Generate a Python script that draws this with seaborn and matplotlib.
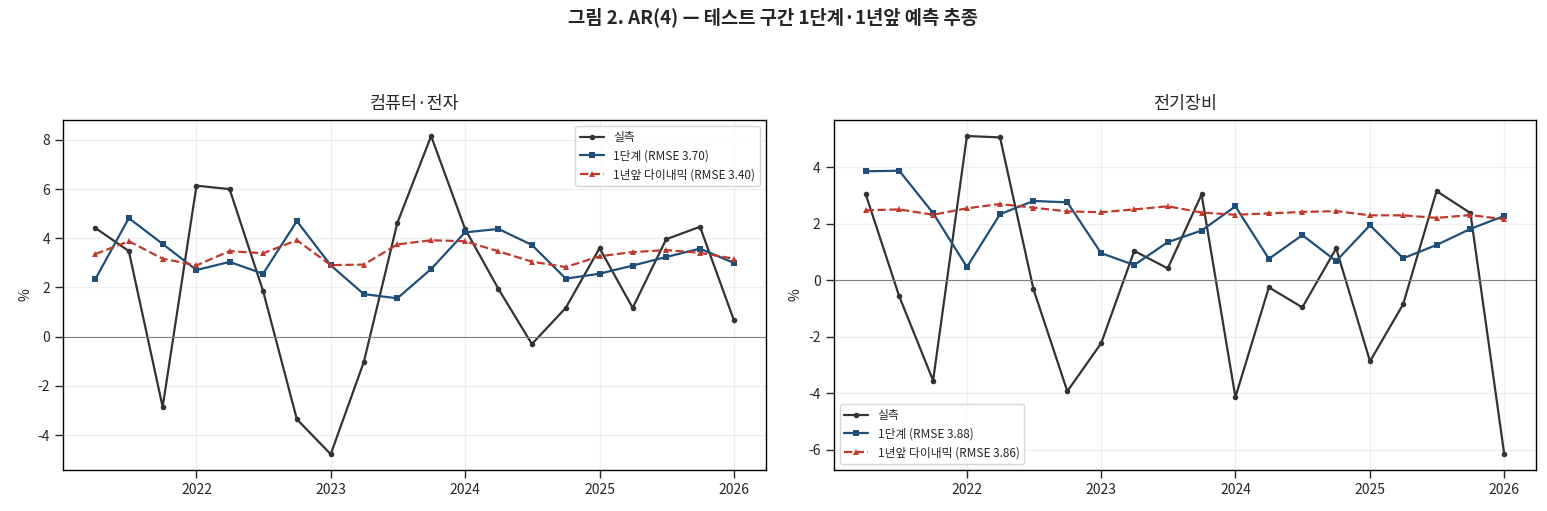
import numpy as np
import pandas as pd
import matplotlib
matplotlib.use("Agg")
import matplotlib.pyplot as plt
import matplotlib.dates as mdates
import seaborn as sns

# quarterly test period, 2021Q2 .. 2026Q1
dates = pd.date_range("2021-04-01", "2026-01-01", freq="QS")

# 컴퓨터·전자
comp_actual = [4.42, 3.48, -2.86, 6.14, 6.00, 1.86, -3.36, -4.78, -1.03, 4.62,
               8.16, 4.39, 1.94, -0.30, 1.17, 3.60, 1.17, 3.96, 4.47, 0.68]
comp_step1 = [2.34, 4.82, 3.77, 2.71, 3.04, 2.56, 4.70, 2.90, 1.73, 1.56,
              2.75, 4.24, 4.38, 3.73, 2.36, 2.56, 2.89, 3.24, 3.58, 3.00]
comp_dyn = [3.36, 3.88, 3.17, 2.90, 3.48, 3.39, 3.92, 2.91, 2.93, 3.75,
            3.92, 3.88, 3.47, 3.05, 2.83, 3.27, 3.44, 3.52, 3.41, 3.17]

# 전기장비
elec_actual = [3.04, -0.57, -3.55, 5.11, 5.06, -0.32, -3.93, -2.23, 1.04, 0.42,
               3.04, -4.14, -0.25, -0.96, 1.13, -2.87, -0.85, 3.16, 2.38, -6.16]
elec_step1 = [3.86, 3.88, 2.38, 0.47, 2.34, 2.81, 2.76, 0.96, 0.54, 1.35,
              1.76, 2.62, 0.76, 1.60, 0.68, 1.95, 0.78, 1.25, 1.82, 2.28]
elec_dyn = [2.48, 2.51, 2.32, 2.55, 2.70, 2.57, 2.44, 2.41, 2.51, 2.62,
            2.40, 2.32, 2.37, 2.42, 2.45, 2.30, 2.30, 2.21, 2.31, 2.16]

panels = [
    ("컴퓨터·전자", comp_actual, comp_step1, comp_dyn, 3.70, 3.40, "upper right"),
    ("전기장비", elec_actual, elec_step1, elec_dyn, 3.88, 3.86, "lower left"),
]

sns.set_theme(style="ticks")
plt.rcParams['font.family'] = ['Noto Sans CJK KR', 'DejaVu Sans']
plt.rcParams['axes.unicode_minus'] = False
plt.rcParams['axes.linewidth'] = 1.0

fig, axes = plt.subplots(1, 2, figsize=(15.47, 5.11), dpi=100)
fig.subplots_adjust(left=0.041, right=0.993, top=0.765, bottom=0.08, wspace=0.097)

for ax, (name, act, s1, dyn, r1, r2, loc) in zip(axes, panels):
    df = pd.DataFrame({"date": dates, "actual": act, "step1": s1, "dyn": dyn})
    sns.lineplot(data=df, x="date", y="actual", ax=ax, color="#333333",
                 marker="o", markersize=4, markeredgewidth=0, linewidth=1.6,
                 label="실측")
    sns.lineplot(data=df, x="date", y="step1", ax=ax, color="#1f4e79",
                 marker="s", markersize=4, markeredgewidth=0, linewidth=1.6,
                 label=f"1단계 (RMSE {r1:.2f})")
    sns.lineplot(data=df, x="date", y="dyn", ax=ax, color="#c0392b",
                 marker="^", markersize=4, markeredgewidth=0, linewidth=1.6,
                 linestyle="--", label=f"1년앞 다이내믹 (RMSE {r2:.2f})")
    ax.axhline(0, color="gray", linewidth=0.8)
    ax.set_title(name, fontsize=12.5, pad=8)
    ax.set_xlabel("")
    ax.set_ylabel("%", fontsize=10)
    ax.xaxis.set_major_locator(mdates.YearLocator())
    ax.xaxis.set_major_formatter(mdates.DateFormatter("%Y"))
    ax.tick_params(labelsize=10, width=1.0)
    ax.grid(True, alpha=0.3)
    for sp in ax.spines.values():
        sp.set_visible(True)
        sp.set_color("black")
    ax.legend(loc=loc, fontsize=8.5, frameon=True)

fig.suptitle("그림 2. AR(4) — 테스트 구간 1단계·1년앞 예측 추종", fontsize=13.5,
             fontweight="bold", y=0.985)
fig.savefig("out.png", dpi=100)
